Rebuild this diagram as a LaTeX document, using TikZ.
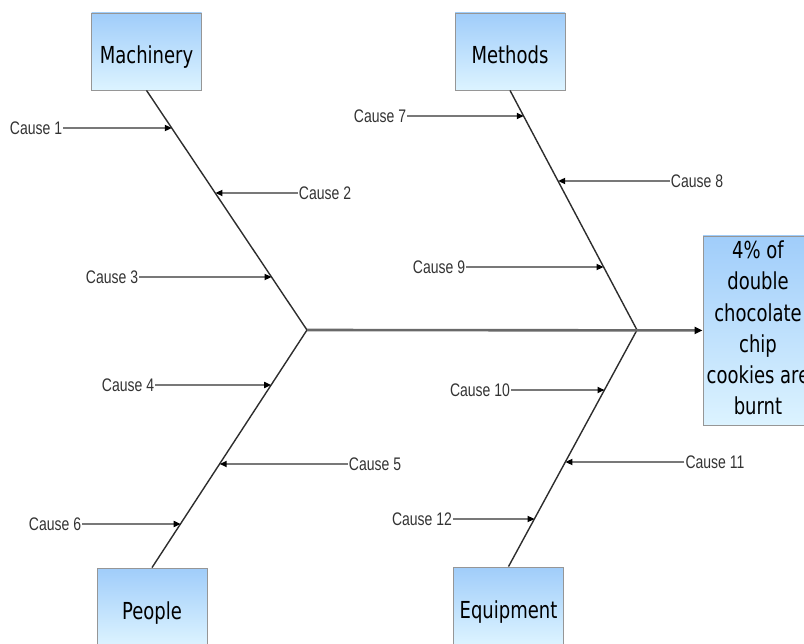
\documentclass[tikz,border=0pt]{standalone}
\usepackage{fontspec,graphicx}
\setmainfont{Liberation Sans}
\newfontfamily\boxfont{DejaVu Sans}
\usetikzlibrary{arrows.meta,calc}
\definecolor{boxtop}{RGB}{160,205,250}
\definecolor{boxbot}{RGB}{220,243,255}
\definecolor{rim}{RGB}{150,150,150}
\definecolor{bonec}{RGB}{45,45,45}
\definecolor{spinec}{RGB}{105,105,105}
\definecolor{arrc}{RGB}{120,120,120}
\newcommand{\tall}[1]{\scalebox{1}[1.3]{#1}}
\newcommand{\cattext}[1]{\smash{\raisebox{-12.5pt}{\tall{#1}}}}
\tikzset{
  cat/.style={draw=rim,line width=0.8pt,top color=boxtop,bottom color=boxbot,minimum width=110pt,minimum height=77pt,inner sep=0pt,font=\boxfont\fontsize{18}{24}\selectfont},
  bone/.style={draw=bonec,line width=1.4pt},
  spine/.style={draw=spinec,line width=2.6pt,-{Triangle[length=8pt,width=7pt,color=black]}},
  arr/.style={draw=arrc,line width=1.6pt,-{Triangle[length=7pt,width=6pt,color=black]}},
  cause/.style={inner sep=1pt,text=black!80,font=\fontsize{14}{16}\selectfont}
}
\begin{document}
\begin{tikzpicture}[x=1pt,y=-1pt]
  \useasboundingbox (0,0) rectangle (804,644);
  \clip (0,0) rectangle (804,644);
  \node[cat] (mach) at (146.5,51.5) {\cattext{Machinery}};
  \node[cat] (meth) at (510,51.5) {\cattext{Methods}};
  \node[cat] (people) at (152,606.5) {\cattext{People}};
  \node[cat] (equip) at (508.5,605.5) {\cattext{Equipment}};
  \node[cat,minimum height=189pt] (effect) at (758,330.5) {\tall{\begin{tabular}{@{}c@{}}4\% of\\double\\chocolate\\chip\\cookies are\\burnt\end{tabular}}};

  \coordinate (j1) at (307,330);
  \coordinate (j2) at (637,330);
  \draw[bone] (mach.south) -- (j1) -- (people.north);
  \draw[bone] (meth.south) -- (j2) -- (equip.north);
  \draw[spine] (j1) -- (effect);

  \foreach \n/\lx/\hx/\y in {1/36/171.9/128,2/325/215.4/193,3/112/271.6/277,4/128/271.2/385,5/375/219.7/464,6/55/180.7/524,
    7/380/523.8/116,8/697/558.1/181,9/439/603.6/267,10/480/604.5/390,11/715/565.4/462,12/422/534.6/519}{
    \node[cause] (c\n) at (\lx,\y) {\tall{Cause \n}};
    \coordinate (h\n) at (\hx,\y);
    \draw[arr] (c\n) -- (h\n);
  }
\end{tikzpicture}
\end{document}
